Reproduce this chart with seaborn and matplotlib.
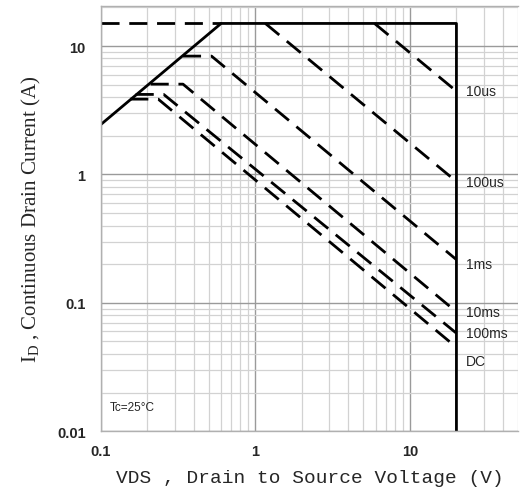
import matplotlib
matplotlib.use("Agg")
import matplotlib.pyplot as plt
import seaborn as sns
import pandas as pd
from matplotlib.ticker import LogLocator, FixedLocator, NullFormatter

# ---- data ----
limit_v = [0.1, 0.6, 20, 20]          # solid SOA boundary (Rds(on) line, Id max, Vds max)
limit_i = [2.45, 15, 15, 0.01]
idmax_v = [0.1, 0.6]                  # dashed Id(max) extension
idmax_i = [15, 15]

curve_names = ["10us", "100us", "1ms", "10ms", "100ms", "DC"]
curve_v = [[5.9, 20], [1.16, 20], [0.34, 0.52, 20], [0.21, 0.34, 20],
           [0.168, 0.255, 20], [0.155, 0.235, 20]]
curve_i = [[15, 4.45], [15, 0.88], [8.35, 8.35, 0.217], [5.05, 5.05, 0.085],
           [4.2, 4.2, 0.058], [3.86, 3.86, 0.045]]
label_y = [4.5, 0.88, 0.2, 0.085, 0.058, 0.035]

x_ticks = [0.1, 1, 10]
x_tick_labels = ["0.1", "1", "10"]
y_ticks = [0.01, 0.1, 1, 10]
y_tick_labels = ["0.01", "0.1", "1", "10"]

sns.set_style("white")
plt.rcParams["mathtext.fontset"] = "custom"
plt.rcParams["mathtext.rm"] = "Liberation Serif"
plt.rcParams["mathtext.it"] = "Liberation Serif:italic"

fig = plt.figure(figsize=(5.2, 5.02), dpi=100)
ax = fig.add_axes([0.194, 0.139, 0.802, 0.847])

dash = (6.5, 3.5)
sns.lineplot(x=limit_v, y=limit_i, ax=ax, color="black", lw=2.0, sort=False,
             estimator=None)
sns.lineplot(x=idmax_v, y=idmax_i, ax=ax, color="black", lw=2.0, sort=False,
             estimator=None, linestyle=(0, dash))
for name, vs, cs in zip(curve_names, curve_v, curve_i):
    df = pd.DataFrame({"v": vs, "i": cs})
    sns.lineplot(data=df, x="v", y="i", ax=ax, color="black", lw=2.0,
                 sort=False, estimator=None, linestyle=(0, dash))

ax.set_xscale("log")
ax.set_yscale("log")
ax.set_xlim(0.1, 50)
ax.set_ylim(0.01, 20.5)

ax.xaxis.set_major_locator(FixedLocator(x_ticks))
ax.yaxis.set_major_locator(FixedLocator(y_ticks))
ax.set_xticklabels(x_tick_labels)
ax.set_yticklabels(y_tick_labels)
ax.xaxis.set_minor_locator(LogLocator(base=10, subs=range(2, 10), numticks=20))
ax.yaxis.set_minor_locator(LogLocator(base=10, subs=range(2, 10), numticks=20))
ax.xaxis.set_minor_formatter(NullFormatter())
ax.yaxis.set_minor_formatter(NullFormatter())

ax.grid(which="major", color="#9a9a9a", lw=1.0)
ax.grid(which="minor", color="#d2d2d2", lw=0.9)
ax.set_axisbelow(True)
ax.tick_params(which="both", length=0)
ax.tick_params(axis="x", pad=9)
ax.tick_params(axis="y", pad=11)
for lab in ax.get_xticklabels() + ax.get_yticklabels():
    lab.set_family(["Liberation Sans Narrow", "Liberation Sans"])
    lab.set_fontweight("bold")
    lab.set_fontsize(10.5)
for s in ax.spines.values():
    s.set_color("#b0b0b0")
    s.set_linewidth(1.0)
ax.spines["right"].set_visible(False)

ax.set_xlabel("VDS , Drain to Source Voltage (V)", family="Liberation Mono",
              fontsize=14, labelpad=8)
ax.set_ylabel(r"$\mathrm{I_D}$ , Continuous Drain Current (A)",
              family="Liberation Serif", fontsize=15, labelpad=10)

for name, yv in zip(curve_names, label_y):
    ax.text(23, yv, name, fontsize=10, va="center", ha="left",
            family=["Liberation Sans Narrow", "Liberation Sans"])
ax.text(0.115, 0.0155, "Tc=25°C", fontsize=8.5, va="center", ha="left",
        family=["Liberation Sans Narrow", "Liberation Sans"])

fig.savefig("out.png", dpi=100)
